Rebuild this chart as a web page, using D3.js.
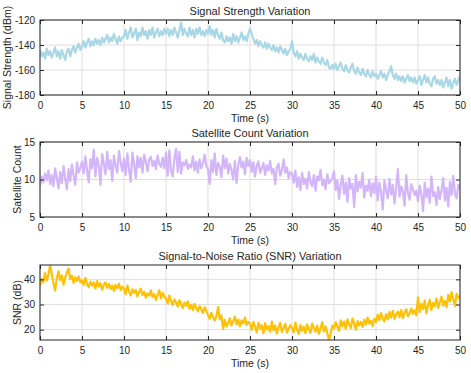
<!DOCTYPE html>
<html>
<head>
<meta charset="utf-8">
<script src="https://cdn.jsdelivr.net/npm/d3@7"></script>
<style>
  body { margin: 0; background: #fff; }
  svg { font-family: "Liberation Sans", Arial, sans-serif; }
  .tick text { fill: #262626; font-size: 10px; }
</style>
</head>
<body>
<div id="chart"></div>
<script>
// readings every 0.2 s, 0..50 s
const timeStep = 0.2;

const signalStrength = [
  -144, -149, -146, -151, -143, -148, -145, -150, -146, -142, -149, -145, -151, -144, -148, -152, -145, -143, -149, -144, -141, -146, -142, -139, -144,
  -141, -137, -142, -138, -135, -141, -137, -140, -135, -139, -136, -140, -134, -138, -135, -132, -138, -134, -137, -131, -135, -139, -133, -137, -134,
  -133, -128, -135, -130, -126, -134, -131, -127, -136, -130, -133, -126, -132, -129, -135, -128, -132, -126, -134, -130, -127, -133, -129, -132, -127,
  -131, -127, -133, -128, -132, -126, -130, -134, -128, -122, -132, -127, -131, -133, -126, -132, -128, -134, -127, -131, -126, -132, -129, -133, -128,
  -131, -125, -132, -128, -134, -127, -132, -135, -130, -136, -138, -133, -137, -134, -139, -131, -137, -133, -138, -134, -130, -136, -133, -137, -131,
  -127, -131, -135, -139, -136, -141, -137, -140, -142, -138, -143, -139, -142, -144, -140, -145, -142, -146, -141, -144, -147, -143, -148, -145, -143,
  -137, -146, -149, -145, -151, -147, -150, -152, -147, -151, -153, -149, -152, -147, -154, -150, -153, -155, -150, -154, -156, -152, -158, -159, -156,
  -159, -155, -160, -157, -154, -159, -161, -156, -160, -162, -158, -155, -161, -163, -158, -162, -164, -159, -163, -165, -160, -164, -166, -161, -165,
  -163, -167, -164, -161, -166, -163, -168, -164, -161, -157, -164, -167, -163, -168, -165, -169, -165, -170, -167, -164, -169, -166, -170, -166, -171,
  -168, -165, -172, -168, -164, -170, -166, -171, -173, -167, -165, -171, -168, -172, -168, -174, -170, -166, -173, -168, -175, -170, -167, -172, -168,
  -165
];

const satelliteCount = [
  9.2, 10.4, 9.6, 10.8, 9.9, 11.2, 9.4, 10.6, 9.1, 11.5, 10.2, 8.8, 11.0, 9.5, 11.8, 10.1, 8.7, 11.4, 9.8, 12.0, 10.5, 9.3, 12.3, 10.9, 11.6,
  12.4, 10.8, 13.1, 11.2, 9.6, 12.7, 11.5, 14.0, 10.4, 12.9, 11.8, 9.3, 13.4, 12.1, 10.7, 13.7, 11.4, 12.6, 9.8, 13.2, 11.9, 10.9, 13.8, 12.3, 11.1,
  12.8, 10.6, 13.5, 11.3, 9.7, 13.6, 12.0, 10.2, 13.1, 11.6, 12.9, 10.9, 13.3, 12.4, 11.1, 12.7, 13.0, 11.8, 12.5, 11.4, 13.2, 12.1, 11.7, 12.9, 11.5,
  13.6, 10.5, 13.9, 11.2, 10.4, 12.8, 14.1, 11.0, 13.7, 10.8, 12.3, 11.9, 12.6, 11.4, 12.0, 11.6, 13.1, 11.2, 12.4, 10.9, 12.7, 11.5, 12.2, 13.3, 11.8,
  11.4, 9.4, 12.6, 11.0, 13.5, 10.6, 12.2, 11.7, 10.3, 13.2, 11.5, 12.8, 10.8, 12.1, 11.3, 10.0, 12.5, 9.5, 11.9, 13.0, 11.6, 12.4, 10.7, 12.9, 11.8,
  12.6, 11.0, 12.3, 10.4, 11.8, 12.4, 10.9, 11.5, 12.2, 10.6, 11.9, 11.2, 12.5, 10.8, 11.4, 9.4, 11.7, 12.1, 10.5, 11.3, 12.7, 10.9, 11.6, 10.2, 11.0,
  10.8, 9.6, 11.2, 9.0, 10.3, 8.6, 10.9, 9.4, 10.1, 8.8, 11.0, 9.7, 9.1, 10.6, 8.5, 10.4, 9.9, 11.3, 9.2, 10.0, 8.7, 10.7, 9.5, 9.8, 10.2,
  11.1, 8.6, 9.9, 7.4, 9.3, 10.5, 8.1, 9.6, 7.0, 10.2, 8.8, 9.4, 6.3, 10.6, 8.4, 9.7, 8.9, 10.9, 7.6, 9.2, 8.5, 10.0, 7.8, 9.5, 8.2,
  10.4, 7.2, 9.6, 8.3, 6.0, 9.9, 8.6, 7.5, 10.1, 8.0, 9.3, 6.8, 8.9, 11.4, 7.7, 9.1, 8.4, 6.5, 10.6, 8.2, 7.3, 9.4, 8.7, 7.9, 8.5,
  7.1, 9.2, 8.0, 5.8, 9.6, 7.6, 8.8, 6.9, 10.4, 7.8, 8.3, 6.6, 9.0, 7.4, 8.6, 10.2, 7.2, 8.9, 6.4, 9.7, 7.9, 10.5, 8.1, 7.5, 9.3,
  8.8
];

const snr = [
  37.5, 40.2, 38.8, 42.5, 39.6, 41.8, 45.6, 42.1, 38.4, 35.6, 40.5, 43.2, 39.8, 41.6, 37.9, 40.8, 42.7, 44.3, 40.1, 41.5, 38.6, 40.9, 39.4, 41.2, 38.9,
  39.5, 37.8, 40.6, 38.2, 36.9, 39.1, 37.5, 38.7, 36.4, 39.3, 37.2, 38.4, 35.9, 37.9, 38.8, 36.6, 38.1, 36.2, 37.6, 35.4, 37.8, 36.5, 38.3, 35.8, 37.0,
  36.4, 34.1, 37.5, 35.2, 33.6, 36.0, 34.7, 35.8, 33.2, 34.9, 36.3, 33.8, 35.1, 32.7, 34.4, 33.5, 35.6, 32.9, 34.2, 31.8, 33.9, 35.7, 32.4, 34.6, 33.1,
  32.3, 30.4, 33.6, 31.5, 29.8, 32.0, 30.9, 29.2, 31.7, 30.1, 28.6, 30.8, 29.5, 31.2, 28.3, 29.9, 27.8, 30.3, 28.7, 27.2, 29.4, 28.1, 26.6, 28.9, 27.5,
  25.8, 24.3, 26.7, 24.9, 23.6, 25.4, 29.0, 24.1, 25.7, 20.3, 23.9, 21.4, 22.6, 24.5, 21.7, 23.3, 25.2, 22.1, 24.0, 21.4, 23.7, 22.5, 24.8, 21.9, 23.1,
  22.4, 19.9, 23.1, 21.2, 18.9, 22.7, 20.4, 21.8, 18.6, 22.6, 20.1, 21.4, 19.2, 23.2, 19.8, 21.6, 18.5, 21.0, 22.7, 19.1, 20.7, 22.3, 18.8, 20.4, 21.8,
  20.8, 18.9, 22.8, 20.1, 18.3, 21.9, 19.5, 21.2, 18.6, 22.1, 20.3, 18.7, 22.4, 20.6, 19.2, 21.6, 18.4, 20.4, 23.0, 19.3, 21.3, 18.8, 16.0, 18.4, 21.6,
  20.6, 22.9, 21.2, 19.5, 23.7, 21.3, 23.2, 20.4, 24.1, 22.1, 20.7, 24.5, 22.4, 20.0, 23.4, 21.6, 23.1, 21.1, 23.9, 22.0, 24.8, 22.4, 23.6, 21.5, 24.3,
  23.1, 25.9, 23.8, 26.6, 24.5, 23.3, 26.2, 24.1, 27.0, 24.8, 27.5, 24.3, 26.1, 27.2, 25.0, 27.8, 24.6, 26.7, 28.1, 25.4, 26.5, 28.4, 26.3, 27.7, 25.7,
  32.8, 27.0, 30.4, 28.2, 31.6, 26.5, 29.8, 31.9, 27.8, 30.7, 29.3, 32.4, 28.6, 30.9, 33.1, 29.6, 31.4, 28.9, 33.8, 31.2, 34.9, 32.1, 29.4, 34.2, 32.7,
  33.4
];

const xTicks = [0, 5, 10, 15, 20, 25, 30, 35, 40, 45, 50];

const panels = [
  { title: "Signal Strength Variation", ylabel: "Signal Strength (dBm)", values: signalStrength,
    domain: [-180, -120], yTicks: [-180, -160, -140, -120], colour: "#a8d7e6", top: 20, labelX: 7 },
  { title: "Satellite Count Variation", ylabel: "Satellite Count", values: satelliteCount,
    domain: [5, 15], yTicks: [5, 10, 15], colour: "#d3b6fa", top: 142, labelX: 17 },
  { title: "Signal-to-Noise Ratio (SNR) Variation", ylabel: "SNR (dB)", values: snr,
    domain: [15.9, 45.7], yTicks: [20, 30, 40], colour: "#ffc107", top: 265, labelX: 17 }
];

const W = 471, H = 373;
const left = 40, plotW = 420, plotH = 75;

const svg = d3.select("#chart").append("svg")
  .attr("width", W)
  .attr("height", H);

const x = d3.scaleLinear().domain([0, 50]).range([0, plotW]);

panels.forEach(p => {
  const data = p.values.map((v, i) => ({ t: i * timeStep, v: v }));
  const y = d3.scaleLinear().domain(p.domain).range([plotH, 0]);

  const g = svg.append("g").attr("transform", `translate(${left},${p.top})`);

  // grid
  g.append("g").selectAll("line").data(xTicks).join("line")
    .attr("x1", d => x(d)).attr("x2", d => x(d))
    .attr("y1", 0).attr("y2", plotH)
    .attr("stroke", "#dfdfdf").attr("stroke-width", 1);
  g.append("g").selectAll("line").data(p.yTicks).join("line")
    .attr("x1", 0).attr("x2", plotW)
    .attr("y1", d => y(d)).attr("y2", d => y(d))
    .attr("stroke", "#dfdfdf").attr("stroke-width", 1);

  const clipId = "clip" + p.top;
  g.append("clipPath").attr("id", clipId)
    .append("rect").attr("width", plotW).attr("height", plotH);

  const line = d3.line()
    .x(d => x(d.t))
    .y(d => y(d.v));

  g.append("path")
    .datum(data)
    .attr("clip-path", `url(#${clipId})`)
    .attr("fill", "none")
    .attr("stroke", p.colour)
    .attr("stroke-width", 2.2)
    .attr("stroke-linejoin", "round")
    .attr("d", line);

  // axes, ticks pointing inward
  const xAxis = g.append("g")
    .attr("transform", `translate(0,${plotH})`)
    .call(d3.axisBottom(x).tickValues(xTicks).tickSizeInner(-4).tickSizeOuter(0).tickPadding(7));
  const xAxisTop = g.append("g")
    .call(d3.axisTop(x).tickValues(xTicks).tickSizeInner(-4).tickSizeOuter(0).tickFormat(""));
  const yAxis = g.append("g")
    .call(d3.axisLeft(y).tickValues(p.yTicks).tickSizeInner(-4).tickSizeOuter(0).tickPadding(5)
      .tickFormat(d => String(d)));
  const yAxisRight = g.append("g")
    .attr("transform", `translate(${plotW},0)`)
    .call(d3.axisRight(y).tickValues(p.yTicks).tickSizeInner(-4).tickSizeOuter(0).tickFormat(""));

  [xAxis, xAxisTop, yAxis, yAxisRight].forEach(a => {
    a.select(".domain").remove();
    a.selectAll("line").attr("stroke", "#262626").attr("stroke-width", 1);
  });

  g.append("rect")
    .attr("width", plotW).attr("height", plotH)
    .attr("fill", "none")
    .attr("stroke", "#262626")
    .attr("stroke-width", 1);

  g.append("text")
    .attr("x", plotW / 2).attr("y", -5)
    .attr("text-anchor", "middle")
    .attr("fill", "#262626")
    .style("font-size", "11px")
    .text(p.title);

  g.append("text")
    .attr("x", plotW / 2).attr("y", plotH + 27)
    .attr("text-anchor", "middle")
    .attr("fill", "#262626")
    .style("font-size", "10.5px")
    .text("Time (s)");

  g.append("text")
    .attr("transform", `translate(${p.labelX - left},${plotH / 2}) rotate(-90)`)
    .attr("text-anchor", "middle")
    .attr("dy", "0.35em")
    .attr("fill", "#262626")
    .style("font-size", "10.5px")
    .text(p.ylabel);
});
</script>
</body>
</html>
